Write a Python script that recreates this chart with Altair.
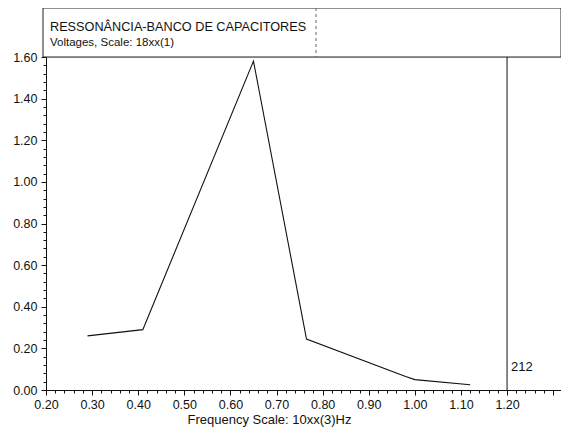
import altair as alt
import pandas as pd

# --- data ---
freq = [0.29, 0.41, 0.65, 0.765, 0.98, 1.00, 1.12]
volt = [0.26, 0.29, 1.58, 0.245, 0.065, 0.05, 0.025]

cursor_x = [1.20]
cursor_label = ["212"]
cursor_label_y = [0.11]

title_lines = ["RESSONÂNCIA-BANCO DE CAPACITORES", "Voltages, Scale: 18xx(1)"]
x_title = "Frequency Scale: 10xx(3)Hz"

x_ticks = [round(0.20 + 0.02 * i, 2) for i in range(56)]
y_ticks = [round(0.04 * i, 2) for i in range(41)]

W, H = 515, 333
FONT = "Liberation Sans"

line_df = pd.DataFrame({"f": freq, "v": volt})
cursor_df = pd.DataFrame({"f": cursor_x, "lab": cursor_label, "ly": cursor_label_y})
one = pd.DataFrame({"k": [0]})
titles_df = pd.DataFrame({"t": title_lines, "yy": [-26, -11], "fs": [12.7, 11.5]})

xscale = alt.Scale(domain=[0.20, 1.317], nice=False, zero=False)
yscale = alt.Scale(domain=[0.0, 1.6], nice=False)

x_axis = alt.Axis(
    values=x_ticks, tickCount=500,
    labelExpr="(abs(datum.value*10 - round(datum.value*10)) < 0.001 && datum.value < 1.21) ? format(datum.value, '.2f') : ''",
    tickSize={"condition": {"test": "abs(datum.value*10 - round(datum.value*10)) < 0.001", "value": 5}, "value": 3},
    labelOverlap=False, labelFlush=False, labelBound=False,
    labelPadding=3, labelFontSize=12.5, labelFont=FONT, labelColor="#111",
    domainColor="#111", tickColor="#111", grid=False,
    title=x_title, titleFont=FONT, titleFontSize=13, titleFontWeight="normal",
    titleColor="#111", titleX=223, titleY=33, titleAlign="center", titleBaseline="alphabetic",
)
y_axis = alt.Axis(
    values=y_ticks, tickCount=500,
    labelExpr="abs(datum.value*5 - round(datum.value*5)) < 0.001 ? format(datum.value, '.2f') : ''",
    tickSize={"condition": {"test": "abs(datum.value*5 - round(datum.value*5)) < 0.001", "value": 5}, "value": 3},
    labelOverlap=False, labelFlush=False, labelBound=False,
    labelPadding=4, labelFontSize=12.5, labelFont=FONT, labelColor="#111",
    domainColor="#111", tickColor="#111", grid=False, title=None,
)

line = alt.Chart(line_df).mark_line(color="#111", strokeWidth=1.1).encode(
    x=alt.X("f:Q", scale=xscale, axis=x_axis),
    y=alt.Y("v:Q", scale=yscale, axis=y_axis),
)

header = alt.Chart(one).mark_rect(fill="white", stroke="#222", strokeWidth=1).encode(
    x=alt.value(-3), x2=alt.value(W), y=alt.value(-49), y2=alt.value(0)
)
divider = alt.Chart(one).mark_rule(color="#666", strokeDash=[3, 3], strokeWidth=1).encode(
    x=alt.value(270), y=alt.value(-49), y2=alt.value(0)
)
titles = alt.Chart(titles_df).mark_text(align="left", baseline="alphabetic", font=FONT, color="#111").encode(
    x=alt.value(4), y=alt.Y("yy:Q", scale=None), text="t:N", size=alt.Size("fs:Q", scale=None, legend=None)
)

cursor = alt.Chart(cursor_df).mark_rule(color="#111", strokeWidth=1).encode(
    x=alt.X("f:Q", scale=xscale), y=alt.value(0), y2=alt.value(H)
)
cursor_text = alt.Chart(cursor_df).mark_text(align="left", baseline="middle", dx=4, font=FONT, fontSize=13, color="#111").encode(
    x=alt.X("f:Q", scale=xscale), y=alt.Y("ly:Q", scale=yscale), text="lab:N"
)

chart = alt.layer(header, divider, titles, line, cursor, cursor_text).properties(
    width=W, height=H,
    autosize="none",
    padding={"left": 38, "top": 49, "right": 0, "bottom": 44},
).configure_view(stroke=None).configure(background="white")

chart.save("out.html", embed_options={"renderer": "svg", "actions": False})
